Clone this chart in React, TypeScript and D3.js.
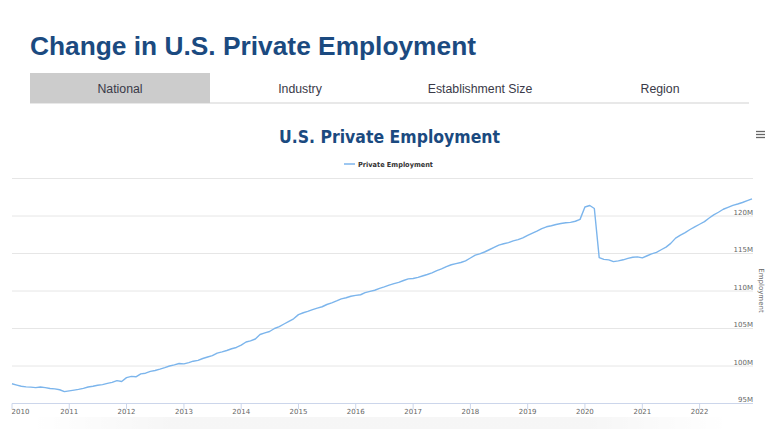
import React from "react";
import * as d3 from "d3";

const startYear = 2010;
const employment: number[] = [
  // 2010
  97.63, 97.45, 97.3, 97.22, 97.18, 97.12, 97.2, 97.12, 97.0, 96.95, 96.83, 96.58,
  // 2011
  96.68, 96.78, 96.88, 97.02, 97.2, 97.3, 97.43, 97.52, 97.68, 97.82, 98.05, 97.93,
  // 2012
  98.45, 98.62, 98.56, 98.95, 99.04, 99.28, 99.4, 99.58, 99.78, 100.0, 100.15, 100.33,
  // 2013
  100.28, 100.45, 100.64, 100.75, 101.0, 101.2, 101.38, 101.72, 101.88, 102.07, 102.3, 102.47,
  // 2014
  102.78, 103.2, 103.35, 103.6, 104.2, 104.42, 104.6, 105.0, 105.25, 105.6, 105.95, 106.29,
  // 2015
  106.85, 107.1, 107.28, 107.52, 107.72, 107.9, 108.2, 108.42, 108.68, 108.95, 109.1, 109.3,
  // 2016
  109.42, 109.5, 109.78, 109.95, 110.1, 110.35, 110.55, 110.78, 110.98, 111.15, 111.4, 111.62,
  // 2017
  111.67, 111.82, 112.0, 112.2, 112.42, 112.72, 112.95, 113.25, 113.5, 113.65, 113.8, 114.02,
  // 2018
  114.4, 114.78, 114.95, 115.2, 115.5, 115.82, 116.12, 116.3, 116.45, 116.68, 116.85, 117.08,
  // 2019
  117.42, 117.72, 117.98, 118.32, 118.56, 118.7, 118.87, 119.0, 119.1, 119.15, 119.3, 119.55,
  // 2020
  121.2, 121.4, 121.0, 114.45, 114.22, 114.15, 113.92, 114.02, 114.16, 114.35, 114.5, 114.55,
  // 2021
  114.42, 114.7, 114.95, 115.15, 115.5, 115.85, 116.35, 117.05, 117.45, 117.78, 118.2, 118.55,
  // 2022
  118.9, 119.25, 119.7, 120.15, 120.5, 120.9, 121.15, 121.42, 121.6, 121.8, 122.05, 122.28,
];

const yTicks = [95, 100, 105, 110, 115, 120, 125];
const xTickYears = [2010, 2011, 2012, 2013, 2014, 2015, 2016, 2017, 2018, 2019, 2020, 2021, 2022];
const tabs = ["National", "Industry", "Establishment Size", "Region"];
const pageTitle = "Change in U.S. Private Employment";
const chartTitle = "U.S. Private Employment";
const seriesName = "Private Employment";
const yAxisTitle = "Employment";

const W = 773;
const H = 435;

export default function App() {
  const data = employment.map((v, i) => ({
    date: new Date(startYear, i, 1),
    value: v,
  }));
  const x = d3
    .scaleTime()
    .domain([data[0].date, data[data.length - 1].date])
    .range([12, 752]);
  const y = d3.scaleLinear().domain([95, 125]).range([403.5, 178.5]);
  const line = d3
    .line<{ date: Date; value: number }>()
    .x((d) => x(d.date))
    .y((d) => y(d.value));

  const tabX = d3.scaleBand<string>().domain(tabs).range([30, 750]).padding(0);
  const axisFont = "'DejaVu Sans', Verdana, sans-serif";

  return (
    <svg
      width={W}
      height={H}
      style={{ position: "absolute", left: 0, top: 0, background: "#fff" }}
    >
      <defs>
        <linearGradient id="shadowH" x1="0" x2="1" y1="0" y2="0">
          <stop offset="0" stopColor="#000" stopOpacity="0" />
          <stop offset="0.2" stopColor="#000" stopOpacity="0.035" />
          <stop offset="0.8" stopColor="#000" stopOpacity="0.035" />
          <stop offset="1" stopColor="#000" stopOpacity="0" />
        </linearGradient>
      </defs>
      {/* page title */}
      <text
        x={30}
        y={55}
        fontFamily="'Liberation Sans', Arial, Helvetica, sans-serif"
        fontWeight="bold"
        fontSize={26.5}
        fill="#1b4a80"
        textLength={446}
        lengthAdjust="spacingAndGlyphs"
      >
        {pageTitle}
      </text>

      {/* tabs */}
      <rect x={30} y={102} width={719} height={2} fill="#e8e8e8" />
      {tabs.map((t, i) => (
        <g key={t}>
          {i === 0 && (
            <rect x={tabX(t)} y={73} width={tabX.bandwidth()} height={30} fill="#cccccc" />
          )}
          <text
            x={(tabX(t) as number) + tabX.bandwidth() / 2}
            y={93}
            textAnchor="middle"
            fontFamily="'Liberation Sans', Arial, Helvetica, sans-serif"
            fontSize={12.3}
            fill="#3a3a48"
          >
            {t}
          </text>
        </g>
      ))}

      {/* chart title */}
      <text
        x={389.5}
        y={143}
        textAnchor="middle"
        fontFamily={axisFont}
        fontWeight="bold"
        fontSize={18.5}
        fill="#1b4a80"
        textLength={221}
        lengthAdjust="spacingAndGlyphs"
      >
        {chartTitle}
      </text>

      {/* menu icon */}
      {[131.5, 134.5, 137.5].map((yy) => (
        <line key={yy} x1={756} x2={765} y1={yy} y2={yy} stroke="#666" strokeWidth={1.3} />
      ))}

      {/* legend */}
      <line x1={344} x2={355} y1={164} y2={164} stroke="#7cb5ec" strokeWidth={1.5} />
      <text
        x={358}
        y={166.5}
        fontFamily={axisFont}
        fontWeight="bold"
        fontSize={7}
        fill="#333"
        textLength={75}
        lengthAdjust="spacingAndGlyphs"
      >
        {seriesName}
      </text>

      {/* grid lines */}
      {yTicks.map((t) => (
        <line
          key={t}
          x1={12}
          x2={753}
          y1={y(t)}
          y2={y(t)}
          stroke={t === 95 ? "#ccd6eb" : "#e6e6e6"}
          strokeWidth={1}
        />
      ))}
      {yTicks
        .filter((t) => t !== 125)
        .map((t) => (
          <text
            key={t}
            x={753}
            y={y(t) - 1.2}
            textAnchor="end"
            fontFamily={axisFont}
            fontSize={7}
            fill="#666"
          >
            {`${t}M`}
          </text>
        ))}
      <text
        transform={`translate(759,290.5) rotate(90)`}
        textAnchor="middle"
        fontFamily={axisFont}
        fontSize={7}
        fill="#666"
      >
        {yAxisTitle}
      </text>

      {/* x axis */}
      {xTickYears.map((yr) => {
        const xx = x(new Date(yr, 0, 1));
        const lx = Math.max(xx, 20.5);
        return (
          <g key={yr}>
            <line x1={xx} x2={xx} y1={403.5} y2={409} stroke="#ccd6eb" strokeWidth={1} />
            <text
              x={lx}
              y={414}
              textAnchor="middle"
              fontFamily={axisFont}
              fontSize={7}
              fill="#666"
            >
              {yr}
            </text>
          </g>
        );
      })}

      {/* series */}
      <path d={line(data) || ""} fill="none" stroke="#7cb5ec" strokeWidth={1.4} strokeLinejoin="round" />

      {/* bottom shadow */}
      <rect x={30} y={417} width={700} height={12} fill="url(#shadowH)" />
    </svg>
  );
}
